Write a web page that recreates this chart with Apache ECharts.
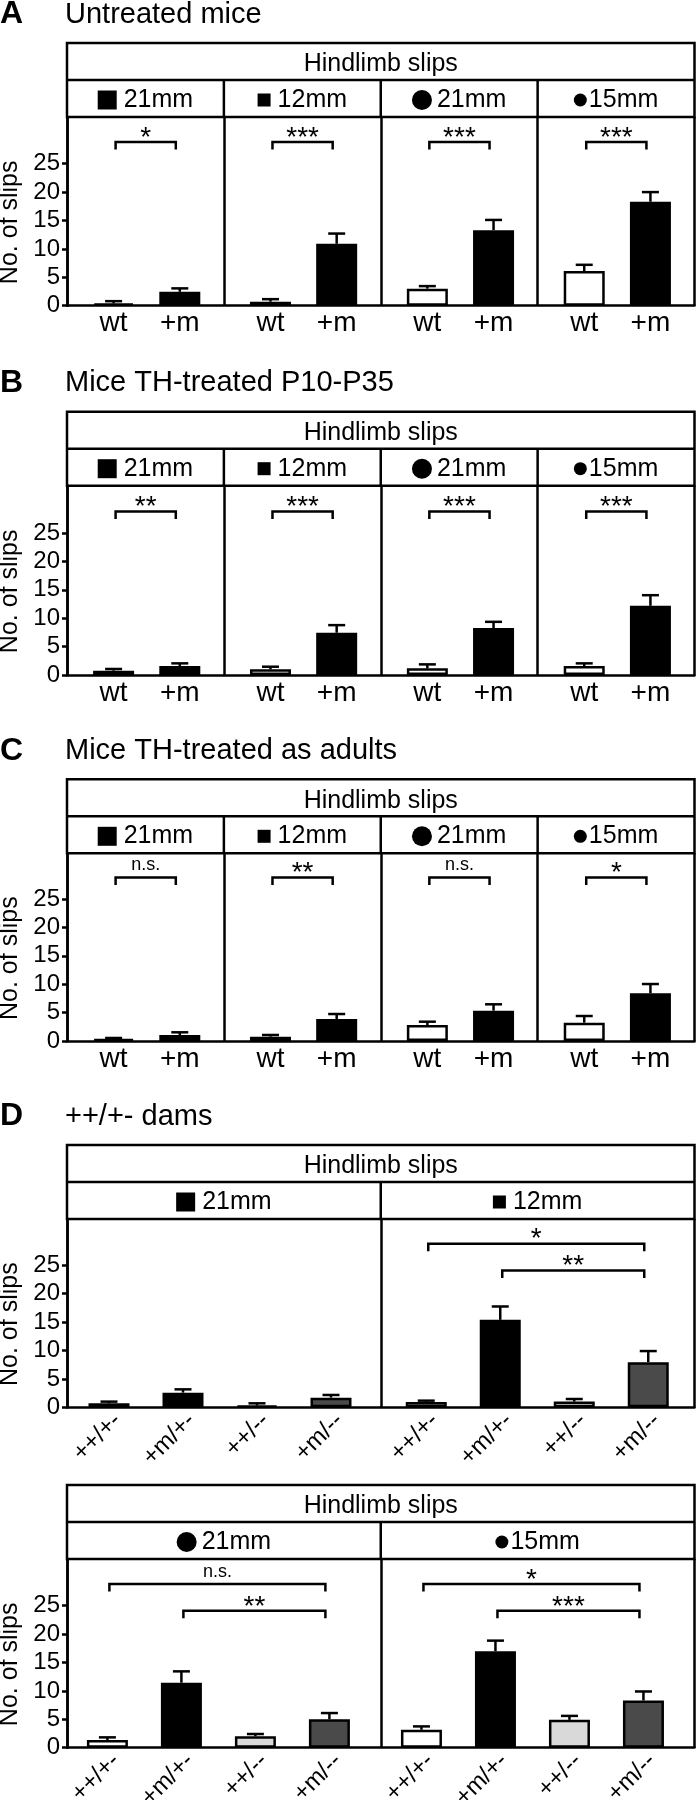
<!DOCTYPE html>
<html><head><meta charset="utf-8">
<script src="https://cdn.jsdelivr.net/npm/echarts@6/dist/echarts.min.js"></script>
<style>html,body{margin:0;padding:0;background:#fff}#c{width:697px;height:1800px}</style>
</head><body><div id="c"></div>
<script>
// ---------------- data ----------------
const panelLetters = ['A', 'B', 'C', 'D'];
const panelTitles = ['Untreated mice', 'Mice TH-treated P10-P35', 'Mice TH-treated as adults', '++/+- dams'];
const headerLabel = 'Hindlimb slips';
const yAxisName = 'No. of slips';
const yTickValues = [0, 5, 10, 15, 20, 25];
const genotypesAC = ['wt', '+m'];
const genotypesD = ['++/+-', '+m/+-', '++/--', '+m/--'];
const obstacleLabels = ['21mm', '12mm', '21mm', '15mm'];
const obstacleMarkers = ['bigSquare', 'smallSquare', 'bigCircle', 'smallCircle'];

// A: untreated mice
const untreatedWt = [0.4, 0.7, 3.0, 6.1];
const untreatedWtSem = [0.4, 0.45, 0.45, 1.1];
const untreatedMut = [2.45, 10.9, 13.3, 18.3];
const untreatedMutSem = [0.6, 1.8, 1.8, 1.7];
const untreatedSig = ['*', '***', '***', '***'];

// B: TH-treated P10-P35
const p10Wt = [0.76, 1.0, 1.17, 1.58];
const p10WtSem = [0.3, 0.46, 0.7, 0.47];
const p10Mut = [1.58, 7.44, 8.26, 12.18];
const p10MutSem = [0.47, 1.34, 1.1, 1.87];
const p10Sig = ['**', '***', '***', '***'];

// C: TH-treated as adults
const adultWt = [0.35, 0.76, 2.82, 3.23];
const adultWtSem = [0.18, 0.3, 0.58, 1.17];
const adultMut = [1.06, 3.87, 5.34, 8.39];
const adultMutSem = [0.47, 0.88, 1.12, 1.64];
const adultSig = ['n.s.', '**', 'n.s.', '*'];

// D: ++/+- dams
const damsSquare21 = [0.70, 2.58, 0.29, 1.70];
const damsSquare21Sem = [0.3, 0.58, 0.41, 0.47];
const damsSquare12 = [0.94, 15.4, 1.0, 7.95];
const damsSquare12Sem = [0.23, 2.35, 0.46, 1.95];
const damsCircle21 = [1.35, 11.44, 2.0, 4.99];
const damsCircle21Sem = [0.47, 2.0, 0.41, 1.11];
const damsCircle15 = [3.15, 17.0, 4.9, 8.3];
const damsCircle15Sem = [0.6, 1.85, 0.7, 1.6];
// comparisons: [label, fromIndex, toIndex]
const damsSquare21Sig = [];
const damsSquare12Sig = [['*', 0, 3], ['**', 1, 3]];
const damsCircle21Sig = [['n.s.', 0, 3], ['**', 1, 3]];
const damsCircle15Sig = [['*', 0, 3], ['***', 1, 3]];

// ---------------- styling / layout ----------------
const FONT = '"Liberation Sans", Arial, Helvetica, sans-serif';
const LW = 2.5;
const PX_PER_UNIT = 5.68;
const BOX_L = 67, BOX_R = 694.5;
const colorsAC = ['#ffffff', '#000000'];
const colorsD = ['#ffffff', '#000000', '#d9d9d9', '#4a4a4a'];
const bracketLevels = [28.8, 24.1];

function acColumns(wt, wtS, mut, mutS, sig) {
  return [0, 1, 2, 3].map(c => ({
    obs: c, means: [wt[c], mut[c]], sems: [wtS[c], mutS[c]], sig: [[sig[c], 0, 1]], off: 13.5
  }));
}

const panels = [
  { letter: panelLetters[0], title: panelTitles[0], boxTop: 43, axisY: 305.7, labels: genotypesAC, colors: colorsAC, band: 66.2,
    columns: acColumns(untreatedWt, untreatedWtSem, untreatedMut, untreatedMutSem, untreatedSig) },
  { letter: panelLetters[1], title: panelTitles[1], boxTop: 411.7, axisY: 675, labels: genotypesAC, colors: colorsAC, band: 66.2,
    columns: acColumns(p10Wt, p10WtSem, p10Mut, p10MutSem, p10Sig) },
  { letter: panelLetters[2], title: panelTitles[2], boxTop: 779.3, axisY: 1041, labels: genotypesAC, colors: colorsAC, band: 66.2,
    columns: acColumns(adultWt, adultWtSem, adultMut, adultMutSem, adultSig) },
  { letter: panelLetters[3], title: panelTitles[3], boxTop: 1145, axisY: 1407.3, labels: genotypesD, colors: colorsD, band: 74, rotate: true,
    columns: [
      { obs: 0, means: damsSquare21, sems: damsSquare21Sem, sig: damsSquare21Sig, off: 5 },
      { obs: 1, means: damsSquare12, sems: damsSquare12Sem, sig: damsSquare12Sig, off: 8.5 }
    ] },
  { letter: null, title: null, boxTop: 1485, axisY: 1747.7, labels: genotypesD, colors: colorsD, band: 74, rotate: true,
    columns: [
      { obs: 2, means: damsCircle21, sems: damsCircle21Sem, sig: damsCircle21Sig, off: 3.4 },
      { obs: 3, means: damsCircle15, sems: damsCircle15Sem, sig: damsCircle15Sig, off: 3.7 }
    ] }
];

const measureCtx = document.createElement('canvas').getContext('2d');
function textWidth(t, font) { measureCtx.font = font; return measureCtx.measureText(t).width; }

function txt(x, y, text, font, align) {
  return { type: 'text', x: x, y: y, silent: true,
    style: { text: text, font: font, fill: '#000', align: align || 'center', textAlign: align || 'center',
             verticalAlign: 'middle', textVerticalAlign: 'middle' } };
}
function hline(x1, x2, y) { return { type: 'line', silent: true, shape: { x1: x1, y1: y, x2: x2, y2: y }, style: { stroke: '#000', lineWidth: LW } }; }
function vline(x, y1, y2) { return { type: 'line', silent: true, shape: { x1: x, y1: y1, x2: x, y2: y2 }, style: { stroke: '#000', lineWidth: LW } }; }

function markerElements(kind, cx, cy) {
  if (kind === 'bigSquare') return { w: 19, gap: 7, el: (x) => ({ type: 'rect', silent: true, shape: { x: x, y: cy - 9.5, width: 19, height: 19 }, style: { fill: '#000' } }) };
  if (kind === 'smallSquare') return { w: 13, gap: 7, el: (x) => ({ type: 'rect', silent: true, shape: { x: x, y: cy - 6.5, width: 13, height: 13 }, style: { fill: '#000' } }) };
  if (kind === 'bigCircle') return { w: 20, gap: 5, el: (x) => ({ type: 'circle', silent: true, shape: { cx: x + 10, cy: cy, r: 10 }, style: { fill: '#000' } }) };
  return { w: 13, gap: 2, el: (x) => ({ type: 'circle', silent: true, shape: { cx: x + 6.5, cy: cy, r: 6.5 }, style: { fill: '#000' } }) };
}

function errRender(params, api) {
  const x = api.value(0), m = api.value(1), s = api.value(2);
  const p0 = api.coord([x, m]), p1 = api.coord([x, m + s]);
  return { type: 'group', children: [
    { type: 'line', shape: { x1: p0[0], y1: p0[1], x2: p1[0], y2: p1[1] }, style: { stroke: '#000', lineWidth: LW } },
    { type: 'line', shape: { x1: p1[0] - 8.5, y1: p1[1], x2: p1[0] + 8.5, y2: p1[1] }, style: { stroke: '#000', lineWidth: LW } }
  ] };
}

function sigRenderFactory(labels) {
  return function (params, api) {
    const a = api.coord([api.value(0), api.value(2)]);
    const b = api.coord([api.value(1), api.value(2)]);
    const x1 = a[0] + 2, x2 = b[0] - 4, y = a[1];
    const text = labels[params.dataIndex];
    const ns = text === 'n.s.';
    return { type: 'group', children: [
      { type: 'polyline', shape: { points: [[x1, y + 7.5], [x1, y], [x2, y], [x2, y + 7.5]] }, style: { stroke: '#000', lineWidth: LW, fill: null } },
      { type: 'text', x: (x1 + x2) / 2, y: ns ? y - 12 : y - 4,
        style: { text: text, font: (ns ? '18px ' : '28px ') + FONT, fill: '#000', align: 'center', textAlign: 'center', verticalAlign: 'middle', textVerticalAlign: 'middle' } }
    ] };
  };
}

const grid = [], xAxis = [], yAxis = [], series = [], graphic = [];

panels.forEach(p => {
  const plotTop = p.boxTop + 74;
  const h = p.axisY - plotTop;
  const yMax = h / PX_PER_UNIT;
  const nCols = p.columns.length;
  const colW = (BOX_R - BOX_L) / nCols;

  if (p.letter) {
    graphic.push(txt(0, p.boxTop - 28.5, p.letter, 'bold 32px ' + FONT, 'left'));
    graphic.push(txt(65, p.boxTop - 28.5, p.title, '29px ' + FONT, 'left'));
  }
  graphic.push({ type: 'rect', silent: true, shape: { x: BOX_L, y: p.boxTop, width: BOX_R - BOX_L, height: 74 }, style: { fill: null, stroke: '#000', lineWidth: LW } });
  graphic.push(hline(BOX_L, BOX_R, p.boxTop + 37));
  graphic.push(txt((BOX_L + BOX_R) / 2, p.boxTop + 21.5, headerLabel, '25px ' + FONT));
  for (let c = 1; c < nCols; c++) graphic.push(vline(BOX_L + c * colW, p.boxTop + 37, plotTop));

  const gi = grid.length;
  grid.push({ left: BOX_L, top: plotTop, width: BOX_R - BOX_L, height: h, outerBoundsMode: 'none', containLabel: false });
  xAxis.push({ gridIndex: gi, type: 'value', min: 0, max: nCols, interval: 1,
    axisLine: { show: true, onZero: false, lineStyle: { color: '#000', width: LW } },
    axisTick: { show: false }, axisLabel: { show: false },
    splitLine: { show: true, lineStyle: { color: '#000', width: LW } } });
  yAxis.push({ gridIndex: gi, type: 'value', min: 0, max: yMax, interval: 5,
    name: yAxisName, nameLocation: 'middle', nameGap: 43,
    nameTextStyle: { fontFamily: FONT, fontSize: 25, color: '#000', padding: [0, 22, 0, 0] },
    axisLine: { show: true, lineStyle: { color: '#000', width: LW } },
    axisTick: { show: true, length: 5, lineStyle: { color: '#000', width: LW }, customValues: yTickValues },
    axisLabel: { customValues: yTickValues, fontFamily: FONT, fontSize: 24, color: '#000', margin: 7 },
    splitLine: { show: false } });

  p.columns.forEach((col, c) => {
    const colLeft = BOX_L + c * colW;
    const ly = p.boxTop + 57;
    const mk = markerElements(obstacleMarkers[col.obs], 0, ly);
    const lf = '25px ' + FONT;
    const tw = textWidth(obstacleLabels[col.obs], lf);
    const total = mk.w + mk.gap + tw;
    const sx = colLeft + colW / 2 - total / 2;
    graphic.push(mk.el(sx));
    graphic.push(txt(sx + mk.w + mk.gap, ly, obstacleLabels[col.obs], lf, 'left'));

    const g = grid.length;
    const n = p.labels.length;
    grid.push({ left: colLeft + col.off, top: plotTop, width: p.band * n, height: h, outerBoundsMode: 'none', containLabel: false });
    xAxis.push({ gridIndex: g, type: 'category', data: p.labels,
      axisLine: { show: false }, axisTick: { show: false },
      axisLabel: p.rotate
        ? { interval: 0, rotate: 45, fontFamily: FONT, fontSize: 24, color: '#000', margin: 18, padding: [0, -12, 0, 0] }
        : { interval: 0, fontFamily: FONT, fontSize: 28, color: '#000', margin: 4 } });
    yAxis.push({ gridIndex: g, type: 'value', min: 0, max: yMax, show: false });
    const xi = xAxis.length - 1, yi = yAxis.length - 1;

    series.push({ type: 'custom', xAxisIndex: xi, yAxisIndex: yi, z: 2, silent: true,
      encode: { x: 0, y: 1 },
      data: col.means.map((v, i) => [i, v, col.sems[i]]), renderItem: errRender });
    series.push({ type: 'bar', xAxisIndex: xi, yAxisIndex: yi, z: 3, silent: true, barWidth: 41,
      itemStyle: { borderColor: '#000', borderWidth: LW },
      data: col.means.map((v, i) => ({ value: v, itemStyle: { color: p.colors[i] } })) });
    if (col.sig.length) {
      const labels = col.sig.map(s => s[0]);
      series.push({ type: 'custom', xAxisIndex: xi, yAxisIndex: yi, z: 4, silent: true,
        encode: { x: [0, 1], y: 2 },
        data: col.sig.map((s, k) => [s[1], s[2], bracketLevels[k]]),
        renderItem: sigRenderFactory(labels) });
    }
  });
});

const chart = echarts.init(document.getElementById('c'), null, { renderer: 'canvas' });
chart.setOption({
  animation: false,
  backgroundColor: '#ffffff',
  grid: grid, xAxis: xAxis, yAxis: yAxis, series: series,
  graphic: { elements: graphic }
});
</script>
</body></html>
